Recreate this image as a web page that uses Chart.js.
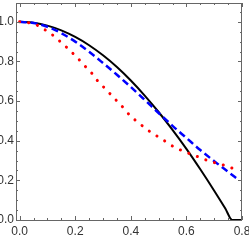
<!DOCTYPE html>
<html>
<head>
<meta charset="utf-8">
<script src="https://cdn.jsdelivr.net/npm/chart.js@4.4.1/dist/chart.umd.min.js"></script>
<style>
  html, body { margin: 0; padding: 0; background: #fff; }
  #wrap { width: 249px; height: 240px; }
</style>
</head>
<body>
<div id="wrap"><canvas id="chart"></canvas></div>
<script>
// values
const blackX = [0, 0.05, 0.1, 0.15, 0.2, 0.25, 0.3, 0.35, 0.4, 0.45, 0.5, 0.55, 0.6, 0.65, 0.7, 0.74, 0.765, 0.8];
const blackY = [1, 0.995, 0.981, 0.957, 0.924, 0.882, 0.831, 0.772, 0.704, 0.628, 0.545, 0.455, 0.359, 0.256, 0.148, 0.058, 0, 0];

const blueX = [0, 0.05, 0.1, 0.15, 0.2, 0.25, 0.3, 0.35, 0.4, 0.45, 0.5, 0.55, 0.6, 0.65, 0.7, 0.75, 0.785];
const blueY = [1, 0.994, 0.975, 0.943, 0.9, 0.849, 0.792, 0.733, 0.671, 0.606, 0.54, 0.475, 0.414, 0.353, 0.297, 0.243, 0.205];

const redX = [0, 0.03, 0.06, 0.085, 0.11, 0.135, 0.16, 0.185, 0.21, 0.235, 0.26, 0.28, 0.305, 0.33, 0.355, 0.38, 0.4, 0.425, 0.45, 0.48, 0.51, 0.56, 0.59, 0.62, 0.65, 0.675, 0.7, 0.73, 0.76, 0.79];
const redY = [1, 0.996, 0.985, 0.965, 0.943, 0.914, 0.883, 0.85, 0.815, 0.777, 0.74, 0.703, 0.667, 0.63, 0.593, 0.556, 0.522, 0.495, 0.465, 0.436, 0.41, 0.365, 0.347, 0.33, 0.315, 0.301, 0.29, 0.279, 0.264, 0.25];

const xTicks = [0, 0.2, 0.4, 0.6, 0.8];
const yTicks = [0, 0.2, 0.4, 0.6, 0.8, 1.0];
const xMinor = [0.05, 0.1, 0.15, 0.25, 0.3, 0.35, 0.45, 0.5, 0.55, 0.65, 0.7, 0.75];
const yMinor = [0.05, 0.1, 0.15, 0.25, 0.3, 0.35, 0.45, 0.5, 0.55, 0.65, 0.7, 0.75, 0.85, 0.9, 0.95, 1.05];

const pts = (xs, ys) => xs.map((x, i) => ({x: x, y: ys[i]}));

// frame with inward ticks, Mathematica style
const framePlugin = {
  id: 'frame',
  afterDraw(chart) {
    const {ctx, chartArea: a, scales} = chart;
    const xs = scales.x, ys = scales.y;
    ctx.save();
    ctx.strokeStyle = '#666';
    ctx.lineWidth = 1;
    ctx.strokeRect(a.left + 0.5, a.top + 0.5, a.right - a.left - 1, a.bottom - a.top);
    ctx.beginPath();
    const tx = (v, len) => {
      const p = Math.round(xs.getPixelForValue(v)) + 0.5;
      ctx.moveTo(p, a.bottom); ctx.lineTo(p, a.bottom - len);
      ctx.moveTo(p, a.top); ctx.lineTo(p, a.top + len);
    };
    const ty = (v, len) => {
      const p = Math.round(ys.getPixelForValue(v)) + 0.5;
      ctx.moveTo(a.left, p); ctx.lineTo(a.left + len, p);
      ctx.moveTo(a.right, p); ctx.lineTo(a.right - len, p);
    };
    xTicks.forEach(v => tx(v, 4));
    xMinor.forEach(v => tx(v, 2));
    yTicks.forEach(v => ty(v, 4));
    yMinor.forEach(v => ty(v, 2));
    ctx.stroke();
    ctx.restore();
  }
};

const tickFont = { family: "'Liberation Sans Narrow', 'Liberation Sans', sans-serif", size: 12 };

new Chart(document.getElementById('chart'), {
  type: 'scatter',
  data: {
    datasets: [
      {
        data: pts(redX, redY),
        showLine: true,
        borderColor: '#ff0000',
        borderWidth: 3,
        borderDash: [0.1, 9],
        borderCapStyle: 'round',
        pointRadius: 0,
        cubicInterpolationMode: 'monotone',
        fill: false
      },
      {
        data: pts(blueX, blueY),
        showLine: true,
        borderColor: '#0000ff',
        borderWidth: 2.5,
        borderDash: [7, 4],
        pointRadius: 0,
        cubicInterpolationMode: 'monotone',
        fill: false
      },
      {
        data: pts(blackX, blackY),
        showLine: true,
        borderColor: '#000',
        borderWidth: 2,
        pointRadius: 0,
        cubicInterpolationMode: 'monotone',
        fill: false
      }
    ]
  },
  options: {
    responsive: true,
    maintainAspectRatio: false,
    animation: false,
    layout: { padding: { top: 3, right: 7, left: 0, bottom: 0 } },
    plugins: { legend: { display: false }, tooltip: { enabled: false } },
    scales: {
      x: {
        type: 'linear',
        min: -0.013,
        max: 0.8,
        grid: { display: false, drawTicks: false },
        border: { display: false },
        afterBuildTicks: s => { s.ticks = xTicks.map(v => ({value: v})); },
        afterFit: s => { s.height = 20; s.paddingLeft = 0; s.paddingRight = 0; },
        ticks: {
          padding: 4,
          color: '#333',
          font: tickFont,
          maxRotation: 0,
          callback: v => v.toFixed(1)
        }
      },
      y: {
        min: 0,
        max: 1.095,
        grid: { display: false, drawTicks: false },
        border: { display: false },
        afterBuildTicks: s => { s.ticks = yTicks.map(v => ({value: v})); },
        afterFit: s => { s.width = 16; s.paddingTop = 0; s.paddingBottom = 0; },
        ticks: {
          padding: 2,
          color: '#333',
          font: tickFont,
          callback: v => v.toFixed(1)
        }
      }
    }
  },
  plugins: [framePlugin]
});
</script>
</body>
</html>
